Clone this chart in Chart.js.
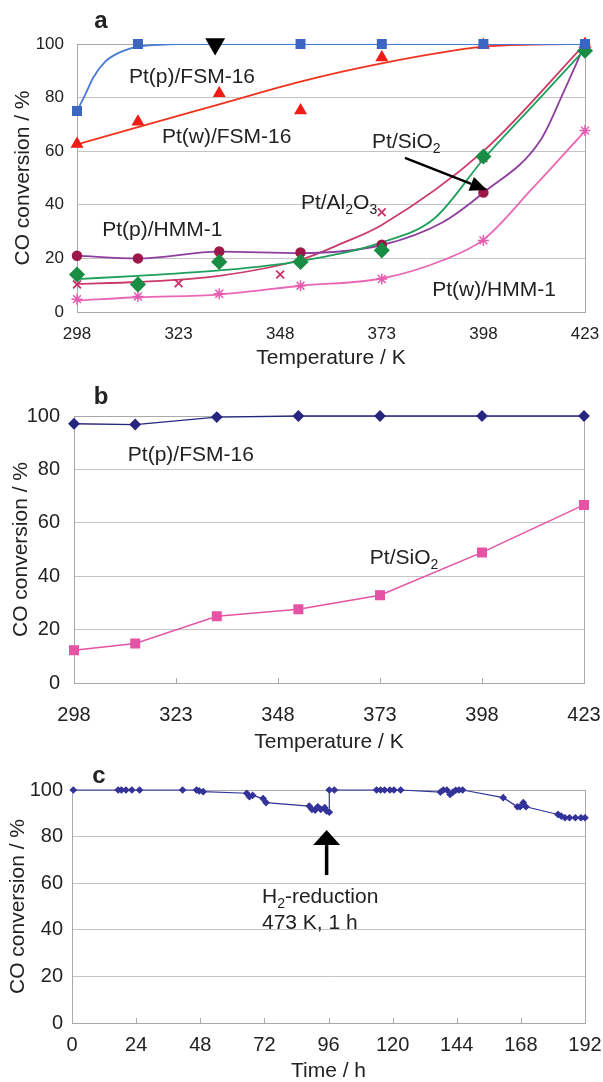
<!DOCTYPE html>
<html>
<head>
<meta charset="utf-8">
<script src="https://cdn.jsdelivr.net/npm/chart.js@4.4.1/dist/chart.umd.min.js"></script>
<style>
    body { margin: 0; background: #fff; width: 603px; height: 1082px; position: relative; overflow: hidden; }
    canvas { position: absolute; left: 0; }
</style>
</head>
<body>
<canvas id="graficoA" width="603" height="370" style="top:0px"></canvas>
<canvas id="graficoB" width="603" height="390" style="top:370px"></canvas>
<canvas id="graficoC" width="603" height="332" style="top:750px"></canvas>
<script>
// ---- painel a: conversao vs temperatura (pontos + curvas de tendencia)
const temperaturas = [298, 313, 333, 353, 373, 398, 423];
const tempFsm16P = [298, 313, 353, 373, 398, 423];
const fsm16P = [75, 100, 100, 100, 100, 100];
const fsm16W = [62.7, 71, 81.6, 75.2, 95, 99.6, 100];
const sio2A = [14, 10.3, 18.7, 18.7, 23, 58, 97.5];
const hmm1P = [21, 20, 22.6, 22.2, 25.1, 44.6, 100];
const tempAl2o3 = [298, 323, 348, 373, 398, 423];
const al2o3 = [10.3, 10.7, 14, 37.2, 57.5, 100];
const hmm1W = [4.8, 5.8, 6.8, 9.8, 12.3, 26.7, 67.7];
const marcadorTemp = [332];
const marcadorValor = [100];

// curvas de tendencia
const tendFsm16PX = [298, 300, 302, 305, 308, 313, 318, 323, 423];
const tendFsm16PY = [75, 81, 87.5, 93.5, 96.5, 99, 99.7, 100, 100];
const tendFsm16WX = [298, 313, 333, 353, 373, 398, 410, 423];
const tendFsm16WY = [62.5, 69, 77.5, 86, 92.8, 99, 99.8, 100];
const tendSio2X = [298, 313, 333, 353, 373, 386, 398, 412, 423];
const tendSio2Y = [12.3, 13.5, 15.5, 19, 26, 35, 57, 80, 98];
const tendHmm1PX = [298, 313, 333, 353, 373, 388, 398, 412, 418, 423];
const tendHmm1PY = [21, 20, 22.5, 22, 25, 33.5, 44.5, 64, 83, 100];
const tendAl2o3X = [298, 313, 333, 353, 363, 373, 398, 423];
const tendAl2o3Y = [10.5, 11.2, 13.5, 19.5, 25.5, 32.5, 60, 100];
const tendHmm1WX = [298, 313, 333, 353, 373, 388, 398, 410, 423];
const tendHmm1WY = [4.3, 5.5, 6.5, 9.8, 12.5, 19.3, 27, 46, 67.5];

// ---- painel b
const temperaturasB = [298, 313, 333, 353, 373, 398, 423];
const fsm16B = [97.1, 96.8, 99.6, 100, 100, 100, 100];
const sio2B = [12.3, 14.8, 25, 27.6, 32.9, 48.9, 66.7];

// ---- painel c: estabilidade no tempo
const tempos = [0.5, 17.3, 18.5, 20.2, 22.4, 25.3, 41.4, 46.6, 47.6, 49.1, 65.4, 66.4, 67.6, 71.5, 72.6,
    88.8, 89.8, 91, 92, 93.1, 94.6, 95.3, 96.3, 96.3, 98.2, 114, 115.5, 117, 119, 120.5, 123,
    137.9, 139, 140.3, 141.5, 142.6, 143.6, 144.8, 146.2, 161.4, 166.7, 167.7, 168.9, 169.9,
    181.9, 183.1, 184.5, 186.2, 188.4, 190.5, 192];
const conversaoC = [100, 100, 100, 100, 100, 100, 100, 100, 99.6, 99.3, 98.6, 97.1, 97.7, 96.3, 94.6,
    93.1, 91.7, 91.4, 92.8, 91.7, 92.4, 91, 90.5, 100, 100, 100, 100, 100, 100, 100, 100,
    99.1, 100, 100, 98.1, 99.1, 99.9, 100, 100, 96.7, 92.8, 92.8, 94.6, 92.8,
    89.5, 88.8, 88.1, 88.1, 88.1, 88.1, 88.1];

const fonte = '"Liberation Sans", Arial, sans-serif';
const corTexto = '#222';
Chart.defaults.font.family = fonte;
Chart.defaults.color = corTexto;

function pares(xs, ys) {
    return xs.map((x, i) => ({ x: x, y: ys[i] }));
}

function desenharTexto(ctx, partes, x, y, tamanho) {
    let cx = x;
    ctx.textAlign = 'left';
    ctx.textBaseline = 'middle';
    partes.forEach(([txt, sub]) => {
        ctx.font = `${sub ? Math.round(tamanho * 0.65) : tamanho}px ${fonte}`;
        ctx.fillText(txt, cx, sub ? y + tamanho * 0.32 : y);
        cx += ctx.measureText(txt).width;
    });
}

function desenharSeta(ctx, x1, y1, x2, y2, cabeca, largura, espessura) {
    const ang = Math.atan2(y2 - y1, x2 - x1);
    const bx = x2 - Math.cos(ang) * cabeca;
    const by = y2 - Math.sin(ang) * cabeca;
    ctx.strokeStyle = '#000';
    ctx.fillStyle = '#000';
    ctx.lineWidth = espessura;
    ctx.beginPath();
    ctx.moveTo(x1, y1);
    ctx.lineTo(bx, by);
    ctx.stroke();
    ctx.beginPath();
    ctx.moveTo(x2, y2);
    ctx.lineTo(bx + Math.sin(ang) * largura / 2, by - Math.cos(ang) * largura / 2);
    ctx.lineTo(bx - Math.sin(ang) * largura / 2, by + Math.cos(ang) * largura / 2);
    ctx.closePath();
    ctx.fill();
}

const bordaGrafico = {
    id: 'bordaGrafico',
    beforeDatasetsDraw(chart, args, opts) {
        const { ctx, chartArea: { left, top, right, bottom }, scales: { x } } = chart;
        ctx.save();
        ctx.strokeStyle = '#a9a9a9';
        ctx.lineWidth = 1;
        ctx.strokeRect(Math.round(left) + 0.5, Math.round(top) + 0.5, Math.round(right - left), Math.round(bottom - top));
        if (opts.ticksInternos) {
            x.ticks.forEach((t) => {
                const px = Math.round(x.getPixelForValue(t.value)) + 0.5;
                ctx.beginPath();
                ctx.moveTo(px, bottom);
                ctx.lineTo(px, bottom - 5);
                ctx.stroke();
            });
        }
        ctx.restore();
    }
}

const anotacoes = {
    id: 'anotacoes',
    afterDatasetsDraw(chart, args, opts) {
        const { ctx, scales: { x, y } } = chart;
        ctx.save();
        ctx.fillStyle = corTexto;
        if (opts.letra) {
            ctx.font = `bold 24px ${fonte}`;
            ctx.textAlign = 'center';
            ctx.textBaseline = 'middle';
            ctx.fillText(opts.letra.texto, opts.letra.x, opts.letra.y);
        }
        (opts.textos || []).forEach((t) => {
            ctx.fillStyle = corTexto;
            desenharTexto(ctx, t.partes, x.getPixelForValue(t.x), y.getPixelForValue(t.y), 21);
        });
        (opts.setas || []).forEach((s) => {
            desenharSeta(ctx,
                x.getPixelForValue(s.x1), y.getPixelForValue(s.y1),
                x.getPixelForValue(s.x2), y.getPixelForValue(s.y2),
                s.cabeca, s.largura, s.espessura);
        });
        ctx.restore();
    }
}

function escalas(cfg) {
    return {
        x: {
            type: 'linear',
            min: cfg.xMin,
            max: cfg.xMax,
            ticks: { stepSize: cfg.xPasso, font: { size: cfg.tamTick }, padding: cfg.xPad, color: corTexto },
            grid: { display: false },
            border: { display: false },
            title: { display: true, text: cfg.xTitulo, font: { size: 21, lineHeight: 1 }, padding: { top: 0, bottom: cfg.xTituloPad }, color: corTexto },
            afterFit: (s) => {
                s.height = cfg.alturaX;
                s.paddingLeft = 0;
                s.paddingRight = 0;
            }
        },
        y: {
            min: 0,
            max: 100,
            ticks: { stepSize: 20, font: { size: cfg.tamTick }, padding: cfg.yPad, color: corTexto },
            grid: { color: '#c4c4c4', drawTicks: false },
            border: { display: false },
            title: { display: true, text: 'CO conversion / %', font: { size: 21, lineHeight: 1 }, padding: { top: cfg.yTituloPad, bottom: 0 }, color: corTexto },
            afterFit: (s) => { s.width = cfg.larguraY }
        }
    }
}

function construirGraficoA(htmlCanvas) {
    const marcadores = (label, xs, ys, estilo, cor, raio, extra) => Object.assign({
        label: label,
        data: pares(xs, ys),
        showLine: false,
        clip: false,
        pointStyle: estilo,
        pointRadius: raio,
        backgroundColor: cor,
        borderColor: cor,
        pointBorderWidth: 1.5
    }, extra || {});
    const tendencia = (label, xs, ys, cor) => ({
        label: label,
        data: pares(xs, ys),
        showLine: true,
        borderColor: cor,
        borderWidth: 1.8,
        pointRadius: 0,
        cubicInterpolationMode: 'monotone',
        fill: false
    });

    let data = {
        datasets: [
            marcadores('marcador', marcadorTemp, marcadorValor, 'triangle', '#000', 10, { rotation: 180 }),
            marcadores('Pt(p)/FSM-16', tempFsm16P, fsm16P, 'rect', '#3d66c0', 6),
            marcadores('Pt(w)/FSM-16', temperaturas, fsm16W, 'triangle', '#f01c16', 6),
            marcadores('Pt/SiO2', temperaturas, sio2A, 'rectRot', '#1a8d45', 7),
            marcadores('Pt(p)/HMM-1', temperaturas, hmm1P, 'circle', '#9c1848', 4.5),
            marcadores('Pt/Al2O3', tempAl2o3, al2o3, 'crossRot', '#c8306a', 5.5, { pointBorderWidth: 1.8 }),
            marcadores('Pt(w)/HMM-1', temperaturas, hmm1W, 'star', '#e65cb0', 5.5, { pointBorderWidth: 1.5 }),
            tendencia('tend Pt(p)/FSM-16', tendFsm16PX, tendFsm16PY, '#4a7bd4'),
            tendencia('tend Pt(w)/FSM-16', tendFsm16WX, tendFsm16WY, '#f2321e'),
            tendencia('tend Pt/SiO2', tendSio2X, tendSio2Y, '#1ea05c'),
            tendencia('tend Pt(p)/HMM-1', tendHmm1PX, tendHmm1PY, '#8e3e9e'),
            tendencia('tend Pt/Al2O3', tendAl2o3X, tendAl2o3Y, '#cc3a66'),
            tendencia('tend Pt(w)/HMM-1', tendHmm1WX, tendHmm1WY, '#e968b6')
        ]
    }

    let options = {
        responsive: false,
        animation: false,
        layout: { padding: { top: 44, right: 18, left: 0, bottom: 0 } },
        scales: escalas({
            xMin: 298, xMax: 423, xPasso: 25, tamTick: 17, xPad: 4.5, xTitulo: 'Temperature / K',
            xTituloPad: 1, alturaX: 58, yPad: 13, yTituloPad: 12.5, larguraY: 77
        }),
        plugins: {
            legend: { display: false },
            tooltip: { enabled: false },
            bordaGrafico: {},
            anotacoes: {
                letra: { texto: 'a', x: 101, y: 21 },
                textos: [
                    { x: 310.8, y: 87.7, partes: [['Pt(p)/FSM-16', false]] },
                    { x: 318.9, y: 65.3, partes: [['Pt(w)/FSM-16', false]] },
                    { x: 370.6, y: 63.4, partes: [['Pt/SiO', false], ['2', true]] },
                    { x: 353.1, y: 40.7, partes: [['Pt/Al', false], ['2', true], ['O', false], ['3', true]] },
                    { x: 304.2, y: 30.6, partes: [['Pt(p)/HMM-1', false]] },
                    { x: 385.4, y: 8.2, partes: [['Pt(w)/HMM-1', false]] }
                ],
                setas: [
                    { x1: 378.7, y1: 57.5, x2: 398.9, y2: 45.5, cabeca: 17, largura: 15, espessura: 2.6 }
                ]
            }
        }
    }

    return new Chart(htmlCanvas, { type: 'scatter', data: data, options: options, plugins: [bordaGrafico, anotacoes] });
}

function construirGraficoB(htmlCanvas) {
    let data = {
        datasets: [
            {
                label: 'Pt(p)/FSM-16',
                data: pares(temperaturasB, fsm16B),
                showLine: true,
                clip: false,
                borderColor: '#262680',
                backgroundColor: '#262680',
                borderWidth: 1.3,
                pointStyle: 'rectRot',
                pointRadius: 5
            },
            {
                label: 'Pt/SiO2',
                data: pares(temperaturasB, sio2B),
                showLine: true,
                clip: false,
                borderColor: '#e553a5',
                backgroundColor: '#e553a5',
                borderWidth: 1.5,
                pointStyle: 'rect',
                pointRadius: 6
            }
        ]
    }

    let options = {
        responsive: false,
        animation: false,
        layout: { padding: { top: 46, right: 19, left: 0, bottom: 0 } },
        scales: escalas({
            xMin: 298, xMax: 423, xPasso: 25, tamTick: 20, xPad: 12, xTitulo: 'Temperature / K',
            xTituloPad: 7.5, alturaX: 77, yPad: 14, yTituloPad: 10.5, larguraY: 74
        }),
        plugins: {
            legend: { display: false },
            tooltip: { enabled: false },
            bordaGrafico: { ticksInternos: true },
            anotacoes: {
                letra: { texto: 'b', x: 101, y: 27 },
                textos: [
                    { x: 311.2, y: 85.4, partes: [['Pt(p)/FSM-16', false]] },
                    { x: 370.5, y: 46.8, partes: [['Pt/SiO', false], ['2', true]] }
                ]
            }
        }
    }

    return new Chart(htmlCanvas, { type: 'scatter', data: data, options: options, plugins: [bordaGrafico, anotacoes] });
}

function construirGraficoC(htmlCanvas) {
    let data = {
        datasets: [
            {
                label: 'Pt(p)/FSM-16',
                data: pares(tempos, conversaoC),
                showLine: true,
                clip: false,
                borderColor: '#33339a',
                backgroundColor: '#33339a',
                borderWidth: 1.2,
                pointStyle: 'rectRot',
                pointRadius: 3
            }
        ]
    }

    let options = {
        responsive: false,
        animation: false,
        layout: { padding: { top: 40, right: 18, left: 0, bottom: 0 } },
        scales: escalas({
            xMin: 0, xMax: 192, xPasso: 24, tamTick: 20, xPad: 2, xTitulo: 'Time / h',
            xTituloPad: 0, alturaX: 59, yPad: 9, yTituloPad: 8, larguraY: 72
        }),
        plugins: {
            legend: { display: false },
            tooltip: { enabled: false },
            bordaGrafico: { ticksInternos: true },
            anotacoes: {
                letra: { texto: 'c', x: 99, y: 26 },
                textos: [
                    { x: 71.1, y: 54.1, partes: [['H', false], ['2', true], ['-reduction', false]] },
                    { x: 71.1, y: 43, partes: [['473 K, 1 h', false]] }
                ],
                setas: [
                    { x1: 95.3, y1: 63.5, x2: 95.3, y2: 82.8, cabeca: 15, largura: 27, espessura: 3.5 }
                ]
            }
        }
    }

    return new Chart(htmlCanvas, { type: 'scatter', data: data, options: options, plugins: [bordaGrafico, anotacoes] });
}

construirGraficoA(document.getElementById('graficoA'));
construirGraficoB(document.getElementById('graficoB'));
construirGraficoC(document.getElementById('graficoC'));
</script>
</body>
</html>
